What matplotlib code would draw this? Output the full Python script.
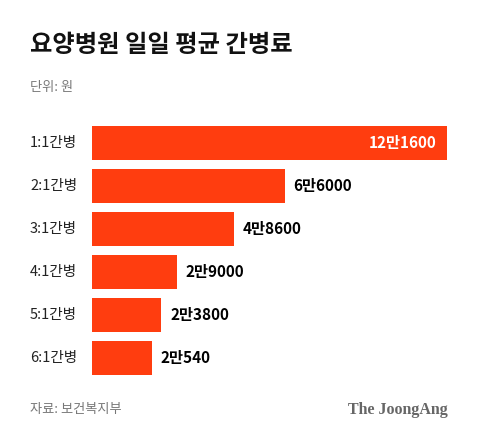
import matplotlib.pyplot as plt

plt.rcParams['font.family'] = ['Noto Sans CJK KR', 'DejaVu Sans']

categories = ["1:1간병", "2:1간병", "3:1간병", "4:1간병", "5:1간병", "6:1간병"]
values = [121600, 66000, 48600, 29000, 23800, 20540]
labels = ["12만1600", "6만6000", "4만8600", "2만9000", "2만3800", "2만540"]

bar_color = "#FF3D0F"

fig = plt.figure(figsize=(4.8, 4.41), dpi=100)
ax = fig.add_axes([92 / 480, 1 - 379 / 441, 355 / 480, 257 / 441])

ax.barh(range(len(values)), values, height=0.79, color=bar_color)
ax.set_xlim(0, values[0])
ax.set_ylim(5.5, -0.5)
ax.axis("off")

for i, (v, lab) in enumerate(zip(values, labels)):
    if i == 0:
        ax.text(v - values[0] * 0.03, i, lab, color="white", ha="right", va="center",
                fontsize=11, fontweight="bold")
    else:
        ax.text(v + values[0] * 0.025, i, lab, color="black", ha="left", va="center",
                fontsize=11, fontweight="bold")
    fig.text(30 / 480, 1 - (143 + i * 43) / 441, categories[i], ha="left", va="center",
             fontsize=10.5, color="#222222")

fig.text(30 / 480, 1 - 45 / 441, "요양병원 일일 평균 간병료", ha="left", va="center",
         fontsize=17.5, fontweight="bold", color="#111111")
fig.text(30 / 480, 1 - 88 / 441, "단위: 원", ha="left", va="center",
         fontsize=9.5, color="#777777")
fig.text(30 / 480, 1 - 410 / 441, "자료: 보건복지부", ha="left", va="center",
         fontsize=9.5, color="#777777")
fig.text(448 / 480, 1 - 410 / 441, "The JoongAng", ha="right", va="center",
         fontsize=11.5, fontweight="bold", family=["Liberation Serif", "DejaVu Serif"],
         color="#666666")

fig.savefig("out.png", dpi=100, facecolor="white")
